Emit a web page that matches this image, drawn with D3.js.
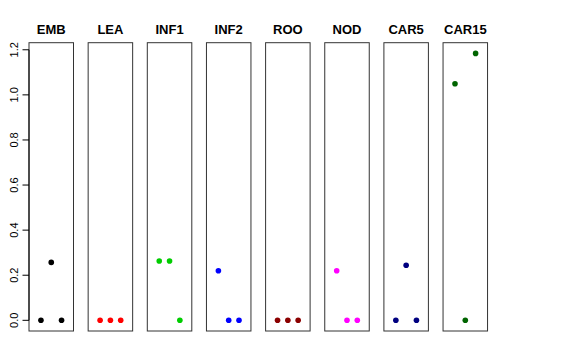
<!DOCTYPE html>
<html>
<head>
<meta charset="utf-8">
<script src="https://cdn.jsdelivr.net/npm/d3@7"></script>
<style>
  body { margin: 0; background: #fff; }
  svg { display: block; font-family: "Liberation Sans", Arial, sans-serif; }
</style>
</head>
<body>
<script>
  // one panel per tissue, three points each
  let tissues = ['EMB', 'LEA', 'INF1', 'INF2', 'ROO', 'NOD', 'CAR5', 'CAR15']
  let colors = ['#000000', '#ff0000', '#00cd00', '#0000ff', '#8b0000', '#ff00ff', '#000080', '#006400']
  let values = [
    [0, 0.257, 0],
    [0, 0, 0],
    [0.263, 0.263, 0],
    [0.220, 0, 0],
    [0, 0, 0],
    [0.220, 0, 0],
    [0, 0.244, 0],
    [1.049, 0, 1.184]
  ]
  let yTicks = [0, 0.2, 0.4, 0.6, 0.8, 1.0, 1.2]

  var width = 576, height = 360
  var plotTop = 42.7, plotBottom = 331
  var left0 = 29, panelW = 44.5, pitch = 59.15

  var svg = d3.select('body').append('svg')
    .attr('width', width)
    .attr('height', height)

  // R-style 4% padding on both axes
  var yMax = d3.max(values, v => d3.max(v))
  var pad = yMax * 0.04
  var y = d3.scaleLinear().domain([-pad, yMax + pad]).range([plotBottom, plotTop])

  var x = d3.scaleLinear().domain([-0.16, 4.16]).range([0, panelW])

  var panel = svg.selectAll('.panel')
    .data(tissues)
    .enter().append('g')
    .attr('class', 'panel')
    .attr('transform', (d, i) => 'translate(' + (left0 + i * pitch) + ',0)')

  panel.append('rect')
    .attr('x', 0)
    .attr('y', plotTop)
    .attr('width', panelW)
    .attr('height', plotBottom - plotTop)
    .attr('fill', 'none')
    .attr('stroke', '#333')
    .attr('stroke-width', 1)

  panel.append('text')
    .attr('x', panelW / 2)
    .attr('y', 34)
    .attr('text-anchor', 'middle')
    .style('font-weight', 'bold')
    .style('font-size', '13px')
    .text(d => d)

  panel.selectAll('circle')
    .data((d, i) => values[i].map((v, j) => ({ step: j + 1, val: v, col: colors[i] })))
    .enter().append('circle')
    .attr('cx', d => x(d.step))
    .attr('cy', d => y(d.val))
    .attr('r', 2.8)
    .attr('fill', d => d.col)

  // y axis on the first panel, rotated labels like R
  var axis = svg.append('g')
    .attr('transform', 'translate(' + (left0 - 6.5) + ',0)')

  axis.append('line')
    .attr('x1', 6.5).attr('x2', 6.5)
    .attr('y1', y(0)).attr('y2', y(1.2))
    .attr('stroke', '#000')

  axis.selectAll('.tick')
    .data(yTicks)
    .enter().append('line')
    .attr('x1', 0).attr('x2', 6.5)
    .attr('y1', d => y(d)).attr('y2', d => y(d))
    .attr('stroke', '#000')

  axis.selectAll('.lab')
    .data(yTicks)
    .enter().append('text')
    .attr('transform', d => 'translate(-5,' + y(d) + ') rotate(-90)')
    .attr('text-anchor', 'middle')
    .style('font-size', '11px')
    .text(d => d.toFixed(1))
</script>
</body>
</html>
